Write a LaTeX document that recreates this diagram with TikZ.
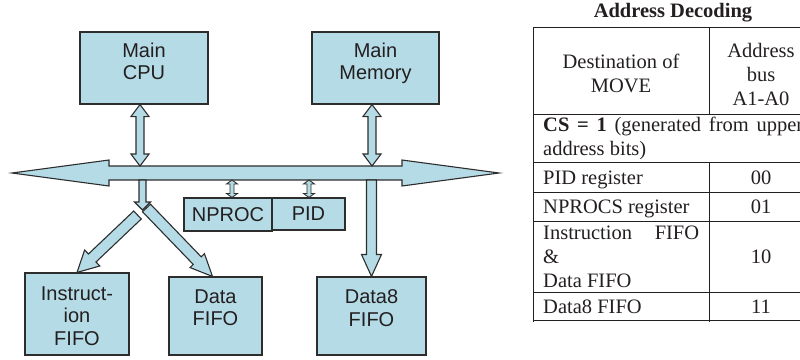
\documentclass[tikz,border=0pt]{standalone}
\usepackage{fontspec}
\setmainfont{Liberation Serif}
\newfontfamily\arialf{Liberation Sans}
\usetikzlibrary{calc}

\definecolor{boxblue}{RGB}{181,220,230}
\definecolor{edge}{RGB}{45,45,45}
\definecolor{ink}{RGB}{35,31,32}

% single block arrow: #1 tail, #2 tip, #3 shaft half width, #4 head half width, #5 head length
\newcommand{\blkarrowS}[5]{%
  \coordinate (saC) at ($(#2)!#5pt!(#1)$);
  \draw[blk] ($(#1)!#3pt!90:(#2)$) -- ($(saC)!#3pt!90:(#2)$) -- ($(saC)!#4pt!90:(#2)$) -- (#2)
     -- ($(saC)!#4pt!-90:(#2)$) -- ($(saC)!#3pt!-90:(#2)$) -- ($(#1)!#3pt!-90:(#2)$) -- cycle;
}
% double block arrow between tips #1 and #2
\newcommand{\blkarrowD}[5]{%
  \coordinate (daC) at ($(#2)!#5pt!(#1)$);
  \coordinate (daD) at ($(#1)!#5pt!(#2)$);
  \draw[blk] (#1) -- ($(daD)!#4pt!90:(#2)$) -- ($(daD)!#3pt!90:(#2)$) -- ($(daC)!#3pt!90:(#2)$)
     -- ($(daC)!#4pt!90:(#2)$) -- (#2) -- ($(daC)!#4pt!-90:(#2)$) -- ($(daC)!#3pt!-90:(#2)$)
     -- ($(daD)!#3pt!-90:(#2)$) -- ($(daD)!#4pt!-90:(#2)$) -- cycle;
}

\begin{document}
\begin{tikzpicture}[x=1pt,y=-1pt,
  box/.style={draw=edge, fill=boxblue, line width=1.1pt, inner sep=0pt},
  blk/.style={draw=edge, fill=boxblue, line width=1.1pt, line join=miter},
  lbl/.style={font=\arialf\fontsize{20}{22.5}\selectfont, text=ink, align=center, inner sep=0pt},
  tt/.style={font=\fontsize{20.5}{24}\selectfont, text=ink, inner sep=0pt},
  ttb/.style={font=\fontsize{20.5}{24}\selectfont\bfseries, text=ink, inner sep=0pt},
  rule/.style={draw=ink, line width=0.9pt}]
\path[use as bounding box, clip] (0,0) rectangle (800,359);

% ---------- boxes ----------
\node[box, minimum width=128pt, minimum height=72pt] (cpu) at (144,68) {};
\node[box, minimum width=127pt, minimum height=72pt] (mem) at (375.5,68) {};
\node[box, minimum width=104pt, minimum height=82pt] (instr) at (77,314) {};
\node[box, minimum width=93pt, minimum height=78pt] (data) at (215.5,316) {};
\node[box, minimum width=109pt, minimum height=78pt] (d8) at (371.5,316) {};
\node[box, lbl, minimum width=88pt, minimum height=33pt] (np) at (228,214.5) {NPROC};
\node[box, lbl, minimum width=73pt, minimum height=32pt] (pid) at (308.5,214) {PID};

\node[lbl, anchor=north] (cpuT) at ($(cpu.north)+(0,11)$) {Main\\CPU};
\node[lbl, anchor=north] (memT) at ($(mem.north)+(0,11)$) {Main\\Memory};
\node[lbl, anchor=north] (instrT) at ($(instr.north)+(0,14)$) {Instruct-\\ion\\FIFO};
\node[lbl, anchor=north] (dataT) at ($(data.north)+(0,13)$) {Data\\FIFO};
\node[lbl, anchor=north] (d8T) at ($(d8.north)+(0,13)$) {Data8\\FIFO};

% ---------- bus ----------
\coordinate (busL) at (12,173);
\coordinate (busR) at (499,173);
\coordinate (bt) at (0,166);
\coordinate (bb) at (0,180);
\blkarrowD{busL}{busR}{7}{13}{97}

% CPU and memory links
\coordinate (cpuA) at ($(cpu.south)+(-4,0)$);
\coordinate (cpuB) at (cpuA |- bt);
\blkarrowD{cpuA}{cpuB}{4}{9}{12}
\coordinate (memA) at ($(mem.south)+(-3.5,0)$);
\coordinate (memB) at (memA |- bt);
\blkarrowD{memA}{memB}{4}{9}{12}

% NPROC / PID links
\coordinate (npA) at ($(np.north)+(4,0)$);
\coordinate (npB) at (npA |- bb);
\coordinate (pidA) at ($(pid.north)+(0.5,0)$);
\coordinate (pidB) at (pidA |- bb);
\begin{scope}[blk/.append style={line width=0.9pt}]
\blkarrowD{npB}{npA}{2}{5.5}{4}
\blkarrowD{pidB}{pidA}{2}{5.5}{4}
\end{scope}

% split to FIFOs
\coordinate (spl) at (142.5,210);
\coordinate (spT) at (spl |- bb);
\blkarrowS{spT}{spl}{3.5}{8}{8}
\coordinate (ldA) at ($(spl)+(-5,5)$);
\blkarrowS{ldA}{instr.north}{5.5}{11}{21}
\coordinate (rdA) at ($(spl)+(4,-2)$);
\coordinate (rdB) at ($(data.north)+(-3,0)$);
\blkarrowS{rdA}{rdB}{5.5}{10}{22}

% Data8 link
\coordinate (d8A) at (d8.north |- bb);
\blkarrowS{d8A}{d8.north}{5}{10}{22}

% ---------- table ----------
\node[ttb, anchor=base] (title) at (673,17) {Address Decoding};
\foreach \yy in {27,114,162,192,221,292,320} {\draw[rule] (533,\yy) -- (813,\yy);}
\draw[rule] (533,27) -- (533,322);
\draw[rule] (709,27) -- (709,114);
\draw[rule] (709,162) -- (709,322);
\draw[rule] (813,27) -- (813,322);

\node[tt, align=center, anchor=north] (h1) at (621,54) {Destination of\\MOVE};
\node[tt, align=center, anchor=north] (h2) at (761,43) {Address\\bus\\A1-A0};
\node[tt, align=left, anchor=north west] (cs) at (543,117.3)
  {\hbox to 260pt{\spaceskip=5pt plus 1fil\relax\textbf{CS = 1} (generated from upper}\\address bits)};
\node[tt, anchor=base west] (r1) at (543,184) {PID register};
\node[tt, anchor=base] (v1) at (761,184) {00};
\node[tt, anchor=base west] (r2) at (543,213) {NPROCS register};
\node[tt, anchor=base] (v2) at (761,213) {01};
\node[tt, align=left, anchor=north west] (r3) at (543,225.9)
  {\hbox to 156pt{Instruction\hfill FIFO}\\\&\\Data FIFO};
\node[tt, anchor=base] (v3) at (761,263.5) {10};
\node[tt, anchor=base west] (r4) at (543,313) {Data8 FIFO};
\node[tt, anchor=base] (v4) at (761,313) {11};
\end{tikzpicture}
\end{document}
